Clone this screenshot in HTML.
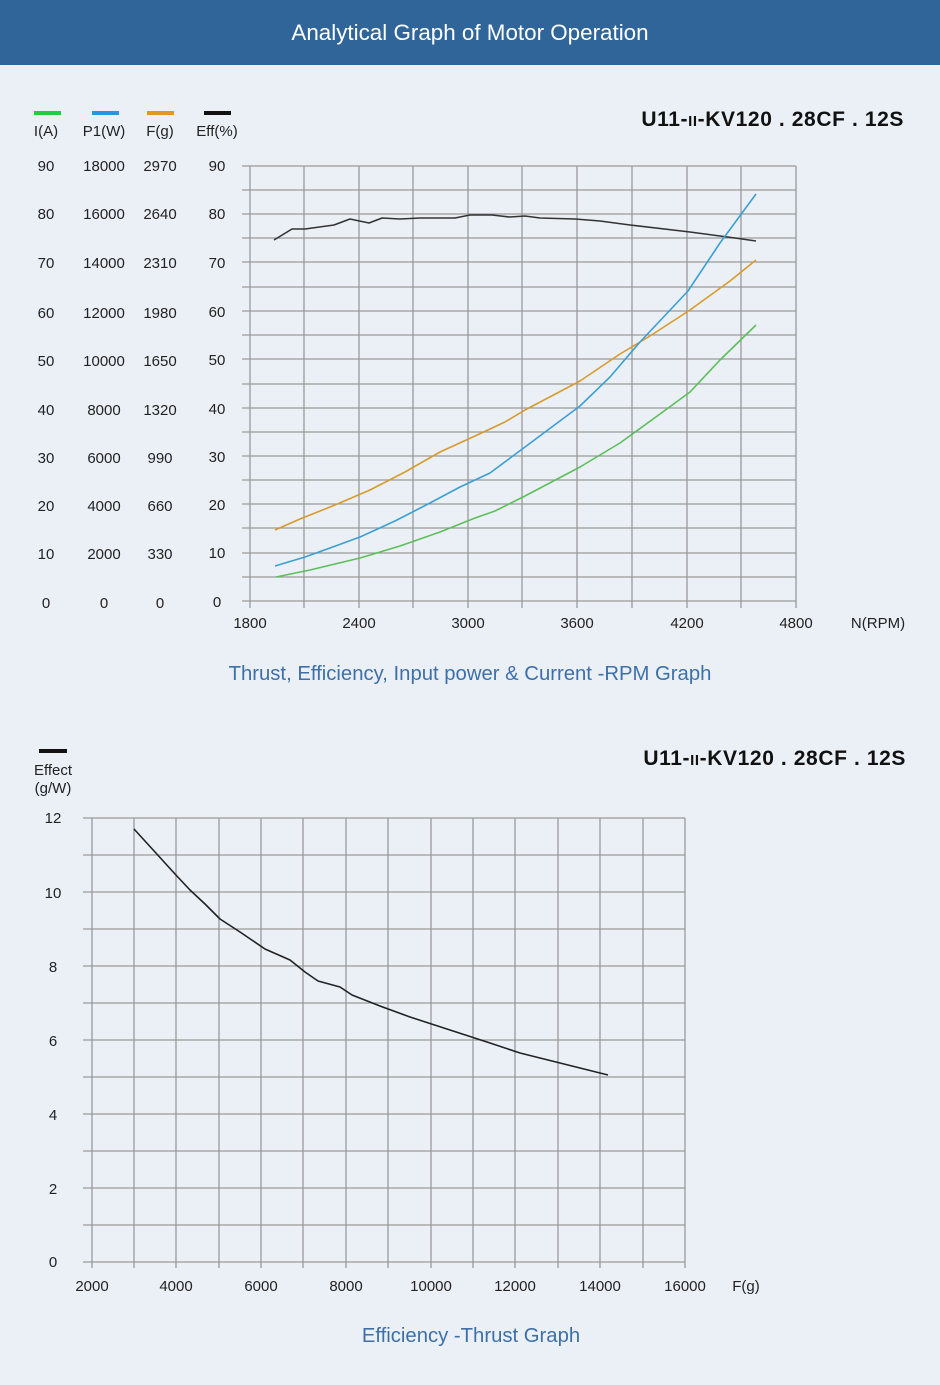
<!DOCTYPE html>
<html><head><meta charset="utf-8"><style>
html,body{margin:0;padding:0;background:#ebf0f7;}
body{width:940px;height:1385px;position:relative;overflow:hidden;font-family:"Liberation Sans",sans-serif;}
.hdr{position:absolute;left:0;top:0;width:940px;height:65px;background:#30659a;color:#fff;font-size:22.4px;text-align:center;line-height:65px;}
</style></head><body>
<div class="hdr">Analytical Graph of Motor Operation</div>
<svg width="940" height="1385" style="position:absolute;left:0;top:0" font-family="Liberation Sans, sans-serif">
<g stroke="#999" stroke-width="1.3" fill="none">
<path d="M242 166H796M242 190H796M242 214H796M242 238H796M242 262H796M242 287H796M242 311H796M242 335H796M242 359H796M242 384H796M242 408H796M242 432H796M242 456H796M242 480H796M242 504H796M242 528H796M242 553H796M242 577H796M242 601H796"/>
<path d="M250 166V608M304 166V608M359 166V608M413 166V608M468 166V608M522 166V608M577 166V608M632 166V608M687 166V608M741 166V608M796 166V608"/>
<path d="M83 818H685M83 855H685M83 892H685M83 929H685M83 966H685M83 1003H685M83 1040H685M83 1077H685M83 1114H685M83 1151H685M83 1188H685M83 1225H685M83 1262H685"/>
<path d="M92 818V1268M134 818V1268M176 818V1268M219 818V1268M261 818V1268M303 818V1268M346 818V1268M388 818V1268M431 818V1268M473 818V1268M515 818V1268M558 818V1268M600 818V1268M643 818V1268M685 818V1268"/>
</g>
<g fill="none" stroke-width="1.6" stroke-linejoin="round">
<polyline stroke="#333" points="274,240 292,229 305,229 334,225 350,219 369,223 382,218 400,219 420,218 455,218 470,215 492,215 510,217 525,216 540,218 575,219 600,221 630,225 690,232 735,238 756,241"/>
<polyline stroke="#d99a2b" points="275,530 300,519 335,505 370,490 405,472 440,452 475,436 505,422 525,410 580,381 620,354 650,336 690,310 730,281 756,260"/>
<polyline stroke="#3a9fd4" points="275,566 305,557 330,548 360,537 395,521 430,503 460,487 490,473 525,447 580,406 610,377 640,342 688,291 720,243 756,194"/>
<polyline stroke="#5cbf5a" points="276,577 310,570 360,558 400,546 440,532 475,518 495,511 525,496 580,467 620,443 660,414 690,392 720,360 756,325"/>
<polyline stroke="#222" points="134,829 155,852 175,874 190,890 205,904 220,919 240,932 265,949 290,960 305,972 318,981 340,987 352,995 380,1006 410,1017 450,1030 490,1043 520,1053 560,1063 608,1075"/>
</g>
<rect x="34" y="111" width="27" height="4" fill="#22cc44"/>
<rect x="92" y="111" width="27" height="4" fill="#2299dd"/>
<rect x="147" y="111" width="27" height="4" fill="#dd9922"/>
<rect x="204" y="111" width="27" height="4" fill="#111"/>
<rect x="39" y="749" width="28" height="4" fill="#111"/>
<g font-size="15" fill="#222" text-anchor="middle">
<text x="46" y="136">I(A)</text><text x="104" y="136">P1(W)</text><text x="160" y="136">F(g)</text><text x="217" y="136">Eff(%)</text>
<text x="46" y="171">90</text><text x="46" y="219">80</text><text x="46" y="268">70</text><text x="46" y="318">60</text><text x="46" y="366">50</text><text x="46" y="415">40</text><text x="46" y="463">30</text><text x="46" y="511">20</text><text x="46" y="559">10</text><text x="46" y="608">0</text>
<text x="104" y="171">18000</text><text x="104" y="219">16000</text><text x="104" y="268">14000</text><text x="104" y="318">12000</text><text x="104" y="366">10000</text><text x="104" y="415">8000</text><text x="104" y="463">6000</text><text x="104" y="511">4000</text><text x="104" y="559">2000</text><text x="104" y="608">0</text>
<text x="160" y="171">2970</text><text x="160" y="219">2640</text><text x="160" y="268">2310</text><text x="160" y="318">1980</text><text x="160" y="366">1650</text><text x="160" y="415">1320</text><text x="160" y="463">990</text><text x="160" y="511">660</text><text x="160" y="559">330</text><text x="160" y="608">0</text>
<text x="217" y="171">90</text><text x="217" y="219">80</text><text x="217" y="268">70</text><text x="217" y="317">60</text><text x="217" y="365">50</text><text x="217" y="414">40</text><text x="217" y="462">30</text><text x="217" y="510">20</text><text x="217" y="558">10</text><text x="217" y="607">0</text>
<text x="250" y="628">1800</text><text x="359" y="628">2400</text><text x="468" y="628">3000</text><text x="577" y="628">3600</text><text x="687" y="628">4200</text><text x="796" y="628">4800</text><text x="878" y="628">N(RPM)</text>
<text x="53" y="775">Effect</text><text x="53" y="793">(g/W)</text>
<text x="53" y="823">12</text><text x="53" y="898">10</text><text x="53" y="972">8</text><text x="53" y="1046">6</text><text x="53" y="1120">4</text><text x="53" y="1194">2</text><text x="53" y="1267">0</text>
<text x="92" y="1291">2000</text><text x="176" y="1291">4000</text><text x="261" y="1291">6000</text><text x="346" y="1291">8000</text><text x="431" y="1291">10000</text><text x="515" y="1291">12000</text><text x="600" y="1291">14000</text><text x="685" y="1291">16000</text><text x="746" y="1291">F(g)</text>
</g>
<g font-size="21" fill="#111" text-anchor="end" letter-spacing="0.6" font-weight="bold">
<text x="904" y="126">U11-<tspan font-size="15">II</tspan>-KV120 . 28CF . 12S</text>
<text x="906" y="765">U11-<tspan font-size="15">II</tspan>-KV120 . 28CF . 12S</text>
</g>
<g font-size="20.3" fill="#3d70a8" text-anchor="middle">
<text x="470" y="680">Thrust, Efficiency, Input power &amp; Current -RPM Graph</text>
<text x="471" y="1342">Efficiency -Thrust Graph</text>
</g>
</svg>
</body></html>
